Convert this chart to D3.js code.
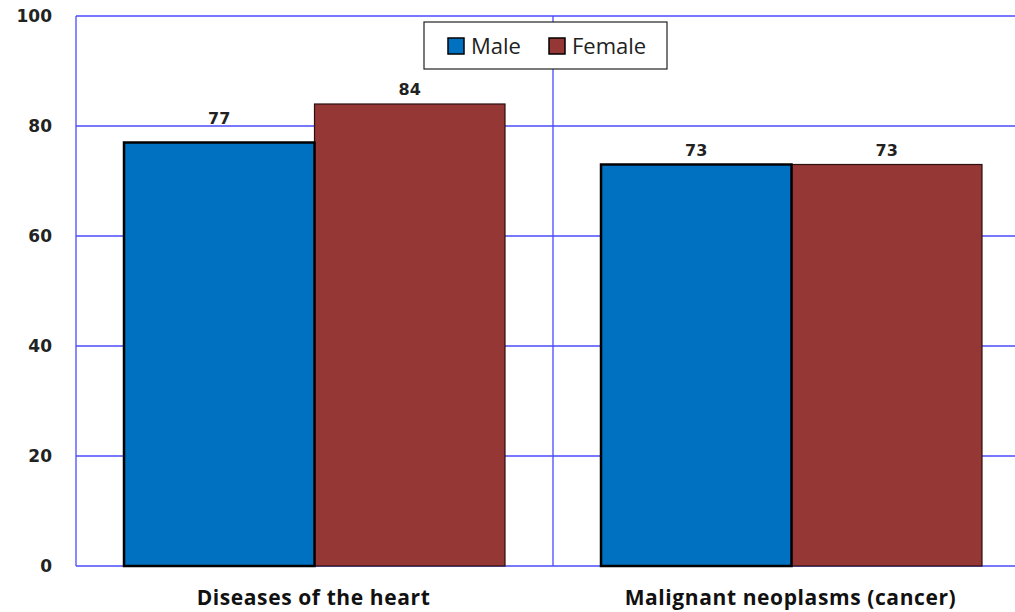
<!DOCTYPE html>
<html>
<head>
<meta charset="utf-8">
<script src="https://cdn.jsdelivr.net/npm/d3@7"></script>
<style>
  body { margin: 0; background: #fff; }
  svg { display: block; }
</style>
</head>
<body>
<svg id="chart" width="1015" height="612"></svg>
<script>
var categories = ["Diseases of the heart", "Malignant neoplasms (cancer)"];
var seriesNames = ["Male", "Female"];
var maleValues = [77, 73];
var femaleValues = [84, 73];
var yTicks = [0, 20, 40, 60, 80, 100];

var colors = { Male: "#0070c0", Female: "#953735" };

var svg = d3.select("#chart");
var margin = { left: 76, top: 16, right: -15, bottom: 46 };
var width = 1015 - margin.left - margin.right;
var height = 612 - margin.top - margin.bottom;

var g = svg.append("g").attr("transform", "translate(" + margin.left + "," + margin.top + ")");

var x0 = d3.scaleBand().domain(categories).range([0, width]).paddingInner(0).paddingOuter(0);
var x1 = d3.scaleBand().domain(seriesNames).range([0, x0.bandwidth()]).paddingOuter(0.252).paddingInner(0);
var y = d3.scaleLinear().domain([0, 100]).range([height, 0]);

// grid lines
g.selectAll("line.hgrid")
  .data(yTicks)
  .enter().append("line")
  .attr("class", "hgrid")
  .attr("x1", 0).attr("x2", width)
  .attr("y1", function(d){ return y(d); })
  .attr("y2", function(d){ return y(d); })
  .attr("stroke", "#4b4bff").attr("stroke-width", 1.3);

g.selectAll("line.vgrid")
  .data(categories)
  .enter().append("line")
  .attr("class", "vgrid")
  .attr("x1", function(d){ return x0(d); })
  .attr("x2", function(d){ return x0(d); })
  .attr("y1", 0).attr("y2", height)
  .attr("stroke", "#4b4bff").attr("stroke-width", 1.3);

// y tick labels
g.selectAll("text.ytick")
  .data(yTicks)
  .enter().append("text")
  .attr("class", "ytick")
  .attr("x", -24)
  .attr("y", function(d){ return y(d); })
  .attr("dy", "0.36em")
  .attr("text-anchor", "end")
  .attr("font-family", "DejaVu Sans, Verdana, sans-serif")
  .attr("font-weight", "bold")
  .attr("font-size", 17)
  .attr("fill", "#222")
  .text(function(d){ return d; });

// bars
var rows = categories.map(function(c, i){
  return { cat: c, vals: [
    { name: "Male", value: maleValues[i] },
    { name: "Female", value: femaleValues[i] }
  ]};
});

var groups = g.selectAll("g.cat")
  .data(rows)
  .enter().append("g")
  .attr("class", "cat")
  .attr("transform", function(d){ return "translate(" + x0(d.cat) + ",0)"; });

// female first, so male's thicker border sits on top
groups.selectAll("rect")
  .data(function(d){ return d.vals.slice().reverse(); })
  .enter().append("rect")
  .attr("x", function(d){ return x1(d.name); })
  .attr("y", function(d){ return y(d.value); })
  .attr("width", x1.bandwidth())
  .attr("height", function(d){ return height - y(d.value); })
  .attr("fill", function(d){ return colors[d.name]; })
  .attr("stroke", function(d){ return d.name === "Male" ? "#000" : "#2a1010"; })
  .attr("stroke-width", function(d){ return d.name === "Male" ? 2.5 : 1.2; });

// value labels (lifted clear of a gridline when they would sit on it)
groups.selectAll("text.val")
  .data(function(d){ return d.vals; })
  .enter().append("text")
  .attr("class", "val")
  .attr("x", function(d){ return x1(d.name) + x1.bandwidth() / 2; })
  .attr("y", function(d){
    var base = y(d.value) - 9;
    var near = yTicks.filter(function(t){ return y(t) < y(d.value) && y(t) > base - 14; });
    return near.length ? y(near[0]) - 2 : base;
  })
  .attr("text-anchor", "middle")
  .attr("font-family", "DejaVu Sans, Verdana, sans-serif")
  .attr("font-weight", "bold")
  .attr("font-size", 16)
  .attr("fill", "#222")
  .text(function(d){ return d.value; });

// category labels
g.selectAll("text.cat")
  .data(categories)
  .enter().append("text")
  .attr("class", "cat")
  .attr("x", function(d){ return x0(d) + x0.bandwidth() / 2 - 1; })
  .attr("y", height + 39)
  .attr("text-anchor", "middle")
  .attr("font-family", "Open Sans, Lato, sans-serif")
  .attr("font-weight", "bold")
  .attr("font-size", 21)
  .attr("letter-spacing", 0.6)
  .attr("fill", "#111")
  .text(function(d){ return d; });

// legend
var legend = svg.append("g").attr("transform", "translate(424,22)");
legend.append("rect")
  .attr("width", 243).attr("height", 47)
  .attr("fill", "#fff").attr("stroke", "#222").attr("stroke-width", 1.2);

var items = legend.selectAll("g.item")
  .data(seriesNames)
  .enter().append("g")
  .attr("class", "item")
  .attr("transform", function(d, i){ return "translate(" + (i === 0 ? 24 : 125) + ",16)"; });

items.append("rect")
  .attr("width", 16).attr("height", 16)
  .attr("fill", function(d){ return colors[d]; })
  .attr("stroke", "#000").attr("stroke-width", 1.5);

items.append("text")
  .attr("x", 23).attr("y", 8)
  .attr("dy", "0.36em")
  .attr("font-family", "Open Sans, Lato, sans-serif")
  .attr("font-size", 22)
  .attr("fill", "#222")
  .text(function(d){ return d; });
</script>
</body>
</html>
